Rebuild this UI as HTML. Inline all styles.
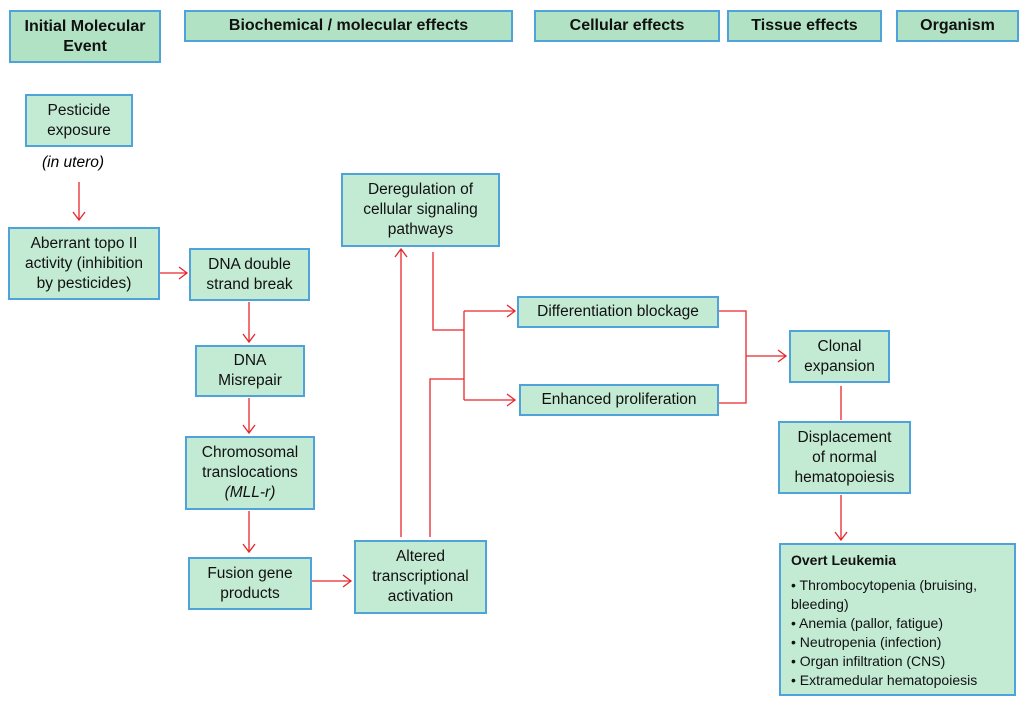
<!DOCTYPE html>
<html><head><meta charset="utf-8"><style>
body{margin:0;width:1024px;height:702px;background:#fff;position:relative;overflow:hidden;font-family:"Liberation Sans",sans-serif;}
.b{position:absolute;box-sizing:border-box;border:2px solid #4fa3d9;background:#c3ead3;display:flex;align-items:center;justify-content:center;text-align:center;font-size:15.5px;line-height:20px;color:#111;}
.h{background:#b2e2c4;font-weight:bold;font-size:16px;}
svg{position:absolute;left:0;top:0;}
</style></head><body>
<div class="b h" style="left:9px;top:10px;width:152px;height:53px;"><span>Initial Molecular<br>Event</span></div>
<div class="b h" style="left:184px;top:10px;width:329px;height:32px;"><span>Biochemical / molecular effects</span></div>
<div class="b h" style="left:534px;top:10px;width:186px;height:32px;"><span>Cellular effects</span></div>
<div class="b h" style="left:727px;top:10px;width:155px;height:32px;"><span>Tissue effects</span></div>
<div class="b h" style="left:896px;top:10px;width:123px;height:32px;"><span>Organism</span></div>

<div class="b" style="left:25px;top:94px;width:108px;height:53px;"><span>Pesticide<br>exposure</span></div>
<div style="position:absolute;left:20px;top:154px;width:106px;text-align:center;font-style:italic;font-size:15.5px;">(in utero)</div>
<div class="b" style="left:8px;top:227px;width:152px;height:73px;"><span>Aberrant topo II<br>activity (inhibition<br>by pesticides)</span></div>
<div class="b" style="left:189px;top:248px;width:121px;height:53px;"><span>DNA double<br>strand break</span></div>
<div class="b" style="left:195px;top:345px;width:110px;height:52px;"><span>DNA<br>Misrepair</span></div>
<div class="b" style="left:185px;top:436px;width:130px;height:74px;"><span>Chromosomal<br>translocations<br><i>(MLL-r)</i></span></div>
<div class="b" style="left:188px;top:557px;width:124px;height:53px;"><span>Fusion gene<br>products</span></div>
<div class="b" style="left:354px;top:540px;width:133px;height:74px;"><span>Altered<br>transcriptional<br>activation</span></div>
<div class="b" style="left:341px;top:173px;width:159px;height:74px;"><span>Deregulation of<br>cellular signaling<br>pathways</span></div>
<div class="b" style="left:517px;top:296px;width:202px;height:32px;"><span>Differentiation blockage</span></div>
<div class="b" style="left:519px;top:384px;width:200px;height:32px;"><span>Enhanced proliferation</span></div>
<div class="b" style="left:789px;top:330px;width:101px;height:53px;"><span>Clonal<br>expansion</span></div>
<div class="b" style="left:778px;top:421px;width:133px;height:73px;"><span>Displacement<br>of normal<br>hematopoiesis</span></div>
<div class="b" style="left:779px;top:543px;width:237px;height:153px;display:block;text-align:left;padding:6px 0 0 10px;font-size:14px;line-height:19px;"><b>Overt Leukemia</b><div style="height:6px"></div>• Thrombocytopenia (bruising,<br>bleeding)<br>• Anemia (pallor, fatigue)<br>• Neutropenia (infection)<br>• Organ infiltration (CNS)<br>• Extramedular hematopoiesis</div>

<svg width="1024" height="702" fill="none" stroke="#e8262b" stroke-width="1.3">
<path d="M79 182V220M73 212L79 220L85 212"/>
<path d="M160 273H187M179 267L187 273L179 279"/>
<path d="M249 302V342M243 334L249 342L255 334"/>
<path d="M249 398V433M243 425L249 433L255 425"/>
<path d="M249 511V552M243 544L249 552L255 544"/>
<path d="M312 581H351M343 575L351 581L343 587"/>
<path d="M401 537V249M395 257L401 249L407 257"/>
<path d="M430 537V379H464"/>
<path d="M433 252V330H464"/>
<path d="M464 311V400M464 311H515M507 305L515 311L507 317M464 400H515M507 394L515 400L507 406"/>
<path d="M719 311H746V403H719M746 356H786M778 350L786 356L778 362"/>
<path d="M841 386V420"/>
<path d="M841 495V540M835 532L841 540L847 532"/>
</svg>
</body></html>
